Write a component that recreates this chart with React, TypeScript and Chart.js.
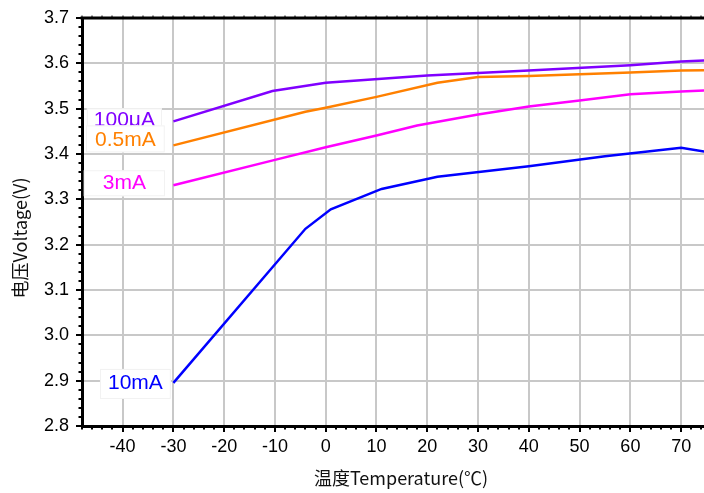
import React, { useEffect, useRef } from "react";
import { Chart, registerables } from "chart.js";

Chart.register(...registerables);

// ---- data ----
const seriesNames = ["100μA", "0.5mA", "3mA", "10mA"];
const seriesColors = ["#8000ff", "#ff8000", "#ff00ff", "#0000ff"];

const temp100uA = [-30, -10.5, 0, 20, 40, 60, 70, 76];
const volt100uA = [3.472, 3.539, 3.557, 3.573, 3.584, 3.596, 3.604, 3.607];

const temp05mA = [-30, -4, 0, 10, 22, 30, 40, 50, 60, 70, 76];
const volt05mA = [3.419, 3.493, 3.502, 3.526, 3.557, 3.57, 3.572, 3.576, 3.58, 3.584, 3.585];

const temp3mA = [-30, -10, 0, 10, 18, 30, 40, 50, 60, 70, 76];
const volt3mA = [3.331, 3.387, 3.415, 3.441, 3.463, 3.487, 3.505, 3.518, 3.532, 3.538, 3.541];

const temp10mA = [-30, -4, 1, 11, 22, 40, 55, 70, 76];
const volt10mA = [2.895, 3.235, 3.278, 3.323, 3.35, 3.373, 3.395, 3.414, 3.403];

const xMin = -48;
const xMax = 74.5;
const yMin = 2.8;
const yMax = 3.7;

const xTitle = "温度Temperature(℃)";
const yTitle = "电压Voltage(V)";

const temps = [temp100uA, temp05mA, temp3mA, temp10mA];
const volts = [volt100uA, volt05mA, volt3mA, volt10mA];

// label placement relative to each series' first point (style only)
const labelStyle = [
  { dx: -49, dy: -1, padX: 7, top: 12, bottom: 8 },
  { dx: -48, dy: -5, padX: 9, top: 15, bottom: 12 },
  { dx: -49, dy: -2, padX: 19, top: 13, bottom: 13 },
  { dx: -38, dy: 0, padX: 8, top: 14, bottom: 16 },
];

const LABEL_FONT = "21px 'Liberation Sans', Arial, sans-serif";
const TICK_FONT = { family: "'Liberation Sans', Arial, sans-serif", size: 18 };
const TITLE_FONT = "18px 'Noto Sans CJK SC', 'Noto Sans', sans-serif";

const decorPlugin = {
  id: "decor",
  beforeDatasetsDraw(chart: any) {
    const ctx = chart.ctx;
    const xs = chart.scales.x;
    const ys = chart.scales.y;
    ctx.save();
    ctx.font = LABEL_FONT;
    ctx.textAlign = "center";
    ctx.textBaseline = "middle";
    for (let i = 0; i < seriesNames.length; i++) {
      const st = labelStyle[i];
      const px = xs.getPixelForValue(temps[i][0]) + st.dx;
      const py = ys.getPixelForValue(volts[i][0]) + st.dy;
      const w = ctx.measureText(seriesNames[i]).width;
      ctx.fillStyle = "#ffffff";
      ctx.strokeStyle = "#f2f2f2";
      ctx.lineWidth = 1;
      const bx = px - w / 2 - st.padX;
      const by = py - st.top;
      const bw = w + st.padX * 2;
      const bh = st.top + st.bottom;
      ctx.fillRect(bx, by, bw, bh);
      ctx.strokeRect(bx + 0.5, by + 0.5, bw - 1, bh - 1);
      ctx.fillStyle = seriesColors[i];
      ctx.fillText(seriesNames[i], px, py);
    }
    ctx.restore();
  },
  afterDraw(chart: any) {
    const ctx = chart.ctx;
    const xs = chart.scales.x;
    const ys = chart.scales.y;
    const area = chart.chartArea;
    ctx.save();
    ctx.strokeStyle = "#000";
    ctx.lineWidth = 2;
    // x ticks (major every 10, minor every 2)
    for (let v = Math.ceil(xMin / 2) * 2; v <= xMax; v += 2) {
      const p = Math.round(xs.getPixelForValue(v));
      const len = v % 10 === 0 ? 6 : 3.5;
      ctx.beginPath();
      ctx.moveTo(p, area.bottom);
      ctx.lineTo(p, area.bottom + len);
      ctx.stroke();
      ctx.beginPath();
      ctx.lineWidth = 1;
      ctx.moveTo(p, area.top);
      ctx.lineTo(p, area.top - 2.5);
      ctx.stroke();
      ctx.lineWidth = 2;
    }
    // y ticks (major every 0.1, minor every 0.02)
    for (let k = 0; k <= Math.round((yMax - yMin) / 0.02); k++) {
      const v = yMin + k * 0.02;
      const p = Math.round(ys.getPixelForValue(v));
      const len = k % 5 === 0 ? 6 : 3.5;
      ctx.beginPath();
      ctx.moveTo(area.left, p);
      ctx.lineTo(area.left - len, p);
      ctx.stroke();
    }
    // top frame line
    ctx.lineWidth = 3;
    ctx.beginPath();
    ctx.moveTo(area.left - 1.5, area.top);
    ctx.lineTo(area.right, area.top);
    ctx.stroke();
    // titles
    ctx.fillStyle = "#111";
    ctx.font = TITLE_FONT;
    ctx.textAlign = "center";
    ctx.textBaseline = "middle";
    ctx.fillText(xTitle, 401, 478);
    ctx.translate(20, 238);
    ctx.rotate(-Math.PI / 2);
    ctx.fillText(yTitle, 0, 0);
    ctx.restore();
  },
};

export default function App() {
  const ref = useRef<HTMLCanvasElement | null>(null);
  useEffect(() => {
    if (!ref.current) return;
    const chart = new Chart(ref.current, {
      type: "line",
      data: {
        datasets: seriesNames.map((name, i) => ({
          label: name,
          data: temps[i].map((t, j) => ({ x: t, y: volts[i][j] })),
          borderColor: seriesColors[i],
          backgroundColor: seriesColors[i],
          borderWidth: 2.5,
          pointRadius: 0,
          tension: 0,
          fill: false,
        })),
      },
      options: {
        animation: false,
        responsive: false,
        devicePixelRatio: 1,
        layout: { padding: { top: 18, right: 0, left: 0, bottom: 0 } },
        plugins: { legend: { display: false }, tooltip: { enabled: false } },
        scales: {
          x: {
            type: "linear",
            min: xMin,
            max: xMax,
            afterFit: (s: any) => {
              s.height = 67;
              s.paddingLeft = 0;
              s.paddingRight = 0;
            },
            ticks: {
              stepSize: 10,
              includeBounds: false,
              color: "#000",
              font: TICK_FONT,
              padding: 10,
              maxRotation: 0,
              autoSkip: false,
              callback: (v: any) => String(v),
            },
            grid: { color: "#c8c8c8", lineWidth: 2, drawTicks: false },
            border: { display: true, color: "#000", width: 3 },
          },
          y: {
            type: "linear",
            min: yMin,
            max: yMax,
            afterFit: (s: any) => {
              s.width = 82;
              s.paddingTop = 0;
              s.paddingBottom = 0;
            },
            ticks: {
              stepSize: 0.1,
              color: "#000",
              font: TICK_FONT,
              padding: 13,
              autoSkip: false,
              callback: (v: any) => Number(v).toFixed(1),
            },
            grid: { color: "#c8c8c8", lineWidth: 2, drawTicks: false },
            border: { display: true, color: "#000", width: 3 },
          },
        },
      },
      plugins: [decorPlugin],
    });
    return () => chart.destroy();
  }, []);
  return (
    <div style={{ position: "absolute", left: 0, top: 0, width: 704, height: 493, background: "#fff" }}>
      <canvas ref={ref} width={704} height={493} style={{ width: 704, height: 493, display: "block" }} />
    </div>
  );
}
